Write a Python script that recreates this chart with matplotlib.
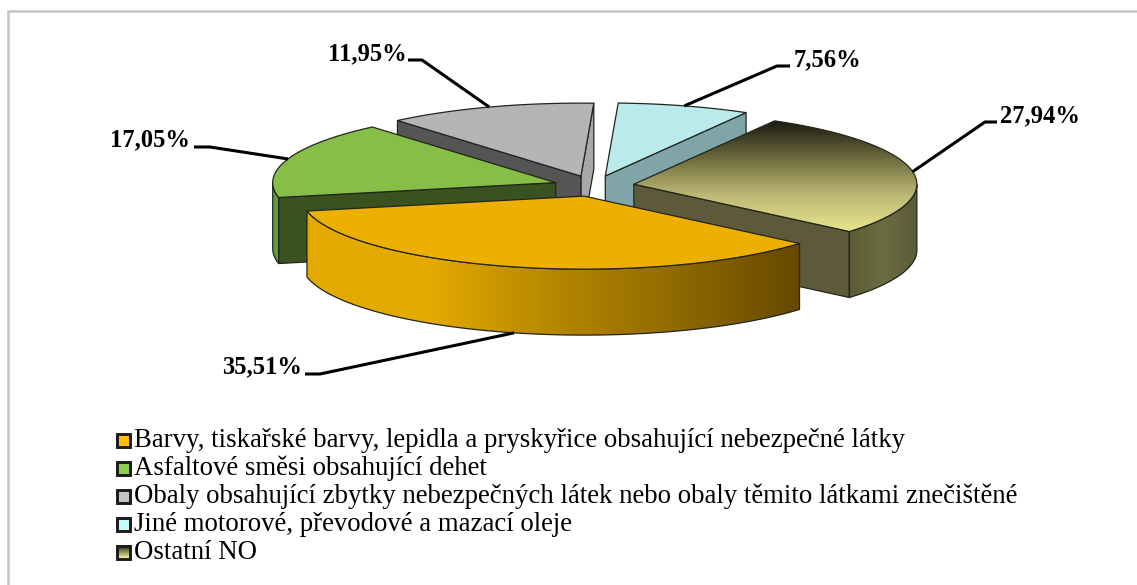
import numpy as np
import matplotlib
matplotlib.use("Agg")
import matplotlib.pyplot as plt
from matplotlib.colors import LinearSegmentedColormap as LSC
from matplotlib.patches import Polygon, Rectangle

categories = [
    "Barvy, tiskařské barvy, lepidla a pryskyřice obsahující nebezpečné látky",
    "Asfaltové směsi obsahující dehet",
    "Obaly obsahující zbytky nebezpečných látek nebo obaly těmito látkami znečištěné",
    "Jiné motorové, převodové a mazací oleje",
    "Ostatní NO",
]
values = [35.51, 17.05, 11.95, 7.56, 27.94]
value_labels = ["35,51%", "17,05%", "11,95%", "7,56%", "27,94%"]

top_colors = ["#EDB000", "#86BE48", "#B5B5B5", "#BAEAEC", None]
cut_colors = ["#9A7400", "#3A5220", "#555555", "#7FA5A8", "#5C5A38"]
far_cut_colors = [None, None, "#A8A8A8", None, None]
arc_colors = ["#EDB000", "#5F9A3C", "#A8A8A8", "#7FA5A8", "#666640"]

START = 319.6
CX, CY, RX, RY, EXPLODE, DEPTH = 594, 186, 283, 73, 0.143, 66

label_pos = [(262, 367), (150, 140), (367, 54), (827, 60), (1040, 116)]
elbow = [(320, 374), (210, 147), (422, 60), (777, 66), (985, 122)]
tail = [(305, 374), (194, 147), (408, 60), (790, 66), (997, 122)]

fig = plt.figure(figsize=(11.37, 5.85), dpi=100)
ax = fig.add_axes([0, 0, 1, 1])
ax.set_xlim(0, 1137)
ax.set_ylim(585, 0)
ax.axis("off")
ax.add_patch(Rectangle((8, 11), 1200, 620, fc="white", ec="#C4C4C4", lw=1.8))

serif = "Liberation Serif"
fracs = np.array(values) / sum(values)
ends = START - np.cumsum(fracs) * 360
starts = ends + fracs * 360


def pt(a, ox, oy, r=1.0):
    a = np.radians(a)
    return ox + RX * r * np.cos(a), oy - RY * r * np.sin(a)


def grad_fill(poly, colors, vertical=False, extent=None):
    cmap = LSC.from_list("g", colors)
    g = np.linspace(0, 1, 256)
    g = g[:, None] if vertical else g[None, :]
    xs, ys = poly[:, 0], poly[:, 1]
    ext = extent or (xs.min(), xs.max(), ys.max(), ys.min())
    im = ax.imshow(g, cmap=cmap, extent=ext, aspect="auto", zorder=zo, interpolation="bilinear")
    p = Polygon(poly, closed=True, fc="none", ec="none", transform=ax.transData)
    ax.add_patch(p)
    im.set_clip_path(p)


order = sorted(range(5), key=lambda i: -np.sin(np.radians((starts[i] + ends[i]) / 2)))
EDGE = dict(ec="#22261a", lw=0.9, joinstyle="round")
zo = 2
origins = {}
for i in order:
    zo += 1
    mid = (starts[i] + ends[i]) / 2
    ox = CX + EXPLODE * RX * np.cos(np.radians(mid))
    oy = CY - EXPLODE * RY * np.sin(np.radians(mid))
    origins[i] = (ox, oy)
    t = np.linspace(ends[i], starts[i], 160)
    ax_, ay_ = pt(t, ox, oy)
    apex = np.array([ox, oy])
    a_end = np.array(pt(ends[i], ox, oy))
    a_start = np.array(pt(starts[i], ox, oy))
    dz = np.array([0, DEPTH])

    # far cut face (clockwise end seen only when it faces the viewer)
    if far_cut_colors[i]:
        ax.add_patch(Polygon([a_end, apex, apex + dz, a_end + dz], fc=far_cut_colors[i], zorder=zo, **EDGE))
    # cut face at the counter-clockwise end
    if np.sin(np.radians(starts[i] + 90)) < 0:
        ax.add_patch(Polygon([a_start, apex, apex + dz, a_start + dz], fc=cut_colors[i], zorder=zo, **EDGE))
    if np.sin(np.radians(ends[i] - 90)) < 0 and not far_cut_colors[i]:
        ax.add_patch(Polygon([a_end, apex, apex + dz, a_end + dz], fc=cut_colors[i], zorder=zo, **EDGE))
    # outer wall
    lo = np.sin(np.radians(t)) < 0
    if lo.any():
        xs, ys = ax_[lo], ay_[lo]
        wall = np.column_stack([np.r_[xs, xs[::-1]], np.r_[ys, ys[::-1] + DEPTH]])
        if i == 0:
            grad_fill(wall, ["#E4AA00", "#E4AA00", "#B58700", "#8F6A00", "#674800"])
        elif i == 4:
            grad_fill(wall, ["#5C5A38", "#6C6C42", "#5C5A38"])
        else:
            ax.add_patch(Polygon(wall, fc=arc_colors[i], ec="none", zorder=zo))
        ax.add_patch(Polygon(wall, fc="none", zorder=zo, **EDGE))
    # top
    top = np.vstack([apex, np.column_stack([ax_, ay_])])
    if top_colors[i]:
        ax.add_patch(Polygon(top, fc=top_colors[i], zorder=zo, **EDGE))
    else:
        grad_fill(top, ["#1C1A10", "#6C6A3C", "#BDB874", "#E9E68E"], vertical=True)
        ax.add_patch(Polygon(top, fc="none", zorder=zo, **EDGE))

# leader lines and value labels
for i, lab in enumerate(value_labels):
    mid = (starts[i] + ends[i]) / 2
    ox, oy = origins[i]
    ax_, ay_ = pt(mid, ox, oy)
    if np.sin(np.radians(mid)) < 0:
        ay_ += DEPTH
    ax.plot([ax_, elbow[i][0], tail[i][0]], [ay_, elbow[i][1], tail[i][1]],
            color="black", lw=2.2, zorder=20, solid_capstyle="butt")
    ax.text(*label_pos[i], lab, family=serif, weight="bold", fontsize=17.7,
            ha="center", va="center", color="black", zorder=21)

# legend
leg_top = ["#FFBF00", "#8FCF50", "#C4C4C4", "#C8FAFC", None]
for i, cat in enumerate(categories):
    y = 440 + i * 28
    if leg_top[i]:
        ax.add_patch(Rectangle((116.5, y - 6.5), 13, 13, fc=leg_top[i], ec="#1a1a1a", lw=2.1, zorder=5))
    else:
        ax.imshow(np.linspace(0, 1, 64)[:, None], cmap=LSC.from_list("l", ["#1C1A10", "#8A8850", "#F2F09A"]),
                  extent=(116.5, 129.5, y + 6.5, y - 6.5), aspect="auto", zorder=5)
        ax.add_patch(Rectangle((116.5, y - 6.5), 13, 13, fc="none", ec="#1a1a1a", lw=2.1, zorder=6))
    ax.text(134, y + 7, cat, family=serif, fontsize=19.25, ha="left", va="baseline", color="black")

ax.set_xlim(0, 1137)
ax.set_ylim(585, 0)
fig.savefig("out.png", dpi=100)
